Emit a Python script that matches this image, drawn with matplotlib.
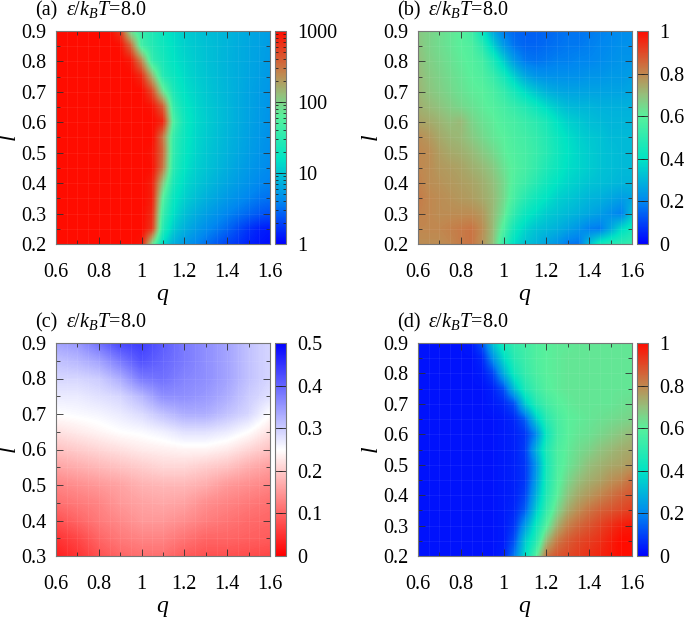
import numpy as np
import matplotlib
matplotlib.use('Agg')
import matplotlib.pyplot as plt
from matplotlib.colors import LinearSegmentedColormap, LogNorm, Normalize
from matplotlib.ticker import MultipleLocator, NullFormatter

plt.rcParams['font.family'] = ['Liberation Serif', 'DejaVu Serif']
plt.rcParams['mathtext.fontset'] = 'custom'
plt.rcParams['mathtext.rm'] = 'Liberation Serif'
plt.rcParams['mathtext.it'] = 'Liberation Serif:italic'
plt.rcParams['font.size'] = 14.5

W, H = 685, 618

q_fine = [0.6, 0.65, 0.7, 0.75, 0.8, 0.85, 0.9, 0.95, 1.0, 1.05, 1.1,
          1.15, 1.2, 1.25, 1.3, 1.35, 1.4, 1.45, 1.5, 1.55, 1.6]
q_coarse = [0.6, 0.7, 0.8, 0.9, 1.0, 1.1, 1.2, 1.3, 1.4, 1.5, 1.6]
l_full = [0.9, 0.85, 0.8, 0.75, 0.7, 0.65, 0.6, 0.55, 0.5, 0.45, 0.4, 0.35, 0.3, 0.25, 0.2]
l_short = [0.9, 0.85, 0.8, 0.75, 0.7, 0.65, 0.6, 0.55, 0.5, 0.45, 0.4, 0.35, 0.3]

# rows run from the top of each panel downwards
panel_a = [
    [1000, 1000, 1000, 1000, 1000, 1000, 600, 70, 38, 26, 19, 14, 11.5, 10, 9, 8.5, 8, 7.2, 6.6, 6, 5.6],
    [1000, 1000, 1000, 1000, 1000, 1000, 950, 350, 45, 28, 20, 15, 12, 10.5, 9.5, 8.6, 7.8, 7, 6.4, 5.9, 5.5],
    [1000, 1000, 1000, 1000, 1000, 1000, 1000, 850, 250, 36, 23, 16, 13, 11, 9.6, 8.6, 7.7, 7, 6.4, 5.8, 5.4],
    [1000, 1000, 1000, 1000, 1000, 1000, 1000, 1000, 700, 150, 28, 19, 14, 11.5, 10, 8.8, 7.8, 7, 6.3, 5.7, 5.2],
    [1000, 1000, 1000, 1000, 1000, 1000, 1000, 1000, 1000, 500, 80, 24, 15.5, 12.5, 10.5, 9, 8, 7, 6.1, 5.5, 5],
    [1000, 1000, 1000, 1000, 1000, 1000, 1000, 1000, 1000, 900, 400, 35, 18, 13.5, 11, 9.5, 8.2, 7, 6.1, 5.4, 4.9],
    [1000, 1000, 1000, 1000, 1000, 1000, 1000, 1000, 1000, 1000, 750, 52, 20, 14, 11.5, 9.6, 8.2, 7, 6, 5.3, 4.8],
    [1000, 1000, 1000, 1000, 1000, 1000, 1000, 1000, 1000, 1000, 300, 36, 19, 13.5, 11, 9.3, 7.9, 6.8, 5.8, 5.1, 4.6],
    [1000, 1000, 1000, 1000, 1000, 1000, 1000, 1000, 1000, 900, 350, 34, 18, 13, 10.5, 8.9, 7.6, 6.5, 5.6, 4.9, 4.4],
    [1000, 1000, 1000, 1000, 1000, 1000, 1000, 1000, 1000, 950, 300, 30, 16.5, 12, 10, 8.4, 7.1, 6, 5.2, 4.6, 4.2],
    [1000, 1000, 1000, 1000, 1000, 1000, 1000, 1000, 1000, 800, 120, 23, 14, 10.8, 8.9, 7.4, 6.3, 5.4, 4.7, 4.1, 3.8],
    [1000, 1000, 1000, 1000, 1000, 1000, 1000, 1000, 1000, 800, 60, 18, 12, 9.2, 7.4, 6.2, 5.2, 4.5, 3.9, 3.4, 3.2],
    [1000, 1000, 1000, 1000, 1000, 1000, 1000, 1000, 1000, 700, 40, 15, 9.5, 7.2, 5.8, 4.8, 4, 3.4, 2.9, 2.5, 2.3],
    [1000, 1000, 1000, 1000, 1000, 1000, 1000, 1000, 1000, 600, 28, 11, 7.4, 5.6, 4.4, 3.6, 2.9, 2.2, 1.7, 1.4, 1.3],
    [1000, 1000, 1000, 1000, 1000, 1000, 1000, 1000, 900, 90, 14, 7.2, 5.2, 4.1, 3.2, 2.5, 2, 1.7, 1.4, 1.25, 1.15],
]

panel_b = [
    [.68, .66, .64, .62, .60, .55, .42, .27, .18, .15, .14, .14, .15, .16, .17, .17, .18, .19, .20, .21, .22],
    [.69, .66, .64, .62, .60, .58, .50, .36, .24, .17, .15, .15, .16, .17, .18, .18, .19, .20, .21, .22, .22],
    [.70, .67, .65, .63, .61, .59, .56, .47, .35, .24, .18, .17, .18, .19, .19, .20, .20, .21, .22, .23, .23],
    [.71, .68, .66, .64, .62, .60, .58, .53, .45, .35, .27, .23, .22, .22, .22, .22, .23, .23, .24, .24, .25],
    [.72, .69, .67, .65, .63, .61, .60, .57, .52, .45, .38, .33, .29, .27, .26, .26, .26, .26, .26, .26, .27],
    [.73, .71, .69, .67, .65, .63, .61, .59, .56, .52, .48, .43, .38, .34, .31, .30, .30, .29, .29, .29, .29],
    [.75, .74, .72, .70, .71, .66, .63, .61, .58, .56, .53, .50, .46, .40, .36, .34, .32, .31, .30, .30, .30],
    [.79, .77, .74, .72, .71, .68, .65, .62, .60, .57, .55, .52, .48, .43, .39, .36, .34, .33, .31, .31, .31],
    [.80, .79, .76, .74, .73, .71, .68, .65, .61, .58, .56, .53, .49, .44, .40, .37, .35, .33, .32, .31, .31],
    [.80, .79, .77, .76, .75, .73, .71, .68, .63, .59, .56, .52, .47, .43, .39, .37, .35, .33, .32, .31, .31],
    [.81, .79, .78, .77, .76, .75, .73, .70, .65, .58, .54, .49, .44, .40, .37, .35, .33, .32, .31, .30, .30],
    [.82, .80, .79, .78, .77, .76, .74, .71, .65, .56, .49, .44, .40, .36, .34, .32, .30, .29, .27, .25, .26],
    [.81, .80, .79, .79, .79, .79, .77, .71, .63, .51, .43, .39, .35, .33, .31, .29, .27, .25, .22, .19, .32],
    [.80, .80, .80, .81, .82, .83, .79, .71, .58, .44, .37, .33, .31, .29, .26, .23, .19, .18, .27, .38, .44],
    [.79, .79, .79, .80, .82, .83, .78, .70, .52, .39, .33, .30, .26, .23, .18, .17, .32, .44, .48, .50, .52],
]

panel_c = [
    [.34, .35, .39, .43, .44, .41, .38, .36, .34, .31, .29],
    [.31, .32, .34, .38, .42, .40, .38, .36, .34, .31, .29],
    [.29, .29, .30, .33, .38, .39, .37, .36, .34, .31, .29],
    [.27, .27, .28, .29, .32, .36, .36, .35, .33, .30, .28],
    [.25, .255, .26, .27, .285, .31, .33, .33, .31, .29, .25],
    [.22, .23, .24, .25, .255, .265, .28, .28, .27, .25, .22],
    [.19, .20, .21, .22, .23, .235, .24, .24, .23, .21, .19],
    [.16, .17, .18, .19, .20, .21, .21, .20, .19, .17, .155],
    [.13, .14, .15, .16, .175, .18, .18, .17, .15, .14, .13],
    [.11, .12, .13, .15, .16, .165, .16, .14, .13, .12, .11],
    [.08, .10, .12, .135, .15, .15, .14, .125, .115, .105, .10],
    [.05, .07, .10, .12, .13, .13, .115, .10, .10, .095, .09],
    [.03, .05, .08, .10, .11, .11, .09, .08, .08, .075, .07],
]

panel_d = [
    [.03, .03, .03, .03, .03, .04, .12, .33, .46, .52, .55, .58, .60, .61, .61, .62, .62, .62, .62, .62, .62],
    [.03, .03, .03, .03, .03, .03, .06, .22, .38, .49, .54, .58, .60, .61, .62, .62, .62, .62, .62, .62, .62],
    [.03, .03, .03, .03, .03, .03, .04, .10, .28, .44, .52, .57, .60, .61, .62, .62, .62, .62, .62, .62, .62],
    [.03, .03, .03, .03, .03, .03, .03, .05, .12, .32, .47, .54, .59, .61, .62, .62, .62, .62, .62, .62, .62],
    [.03, .03, .03, .03, .03, .03, .03, .04, .06, .12, .34, .48, .55, .59, .61, .62, .62, .62, .62, .63, .64],
    [.03, .03, .03, .03, .03, .03, .03, .03, .04, .06, .14, .34, .49, .56, .60, .61, .62, .63, .64, .65, .66],
    [.03, .03, .03, .03, .03, .03, .03, .03, .04, .05, .08, .20, .43, .55, .60, .62, .63, .65, .67, .69, .71],
    [.03, .03, .03, .03, .03, .03, .03, .03, .04, .05, .09, .28, .47, .57, .61, .64, .66, .69, .71, .73, .74],
    [.03, .03, .03, .03, .03, .03, .03, .03, .04, .05, .08, .22, .45, .57, .62, .66, .70, .72, .74, .75, .77],
    [.03, .03, .03, .03, .03, .03, .03, .03, .04, .05, .08, .24, .46, .58, .65, .70, .73, .75, .78, .80, .84],
    [.03, .03, .03, .03, .03, .03, .03, .03, .04, .05, .10, .28, .48, .60, .69, .74, .77, .80, .83, .86, .88],
    [.03, .03, .03, .03, .03, .03, .03, .03, .04, .06, .14, .34, .52, .65, .74, .79, .83, .86, .88, .90, .92],
    [.03, .03, .03, .03, .03, .03, .03, .03, .04, .08, .24, .42, .59, .73, .81, .85, .88, .91, .94, .97, .98],
    [.03, .03, .03, .03, .03, .03, .03, .03, .04, .12, .34, .48, .71, .82, .87, .90, .92, .94, .97, 1.0, 1.0],
    [.03, .03, .03, .03, .03, .03, .03, .03, .05, .18, .38, .58, .83, .88, .90, .92, .94, .96, .98, 1.0, 1.0],
]

rainbow_stops = [(0.0, '#0000ff'), (0.2, '#0088f0'), (0.4, '#00e4c4'), (0.6, '#58f09c'),
                 (0.7, '#94c07c'), (0.8, '#c08850'), (1.0, '#ff0c00')]
rainbow = LinearSegmentedColormap.from_list('rainbow_tan', rainbow_stops, N=256)
redblue = LinearSegmentedColormap.from_list('redblue', ['#ff0000', '#ffffff', '#0000ff'], N=256)


def box(x0, y0, x1, y1):
    return [x0 / W, 1 - y1 / H, (x1 - x0) / W, (y1 - y0) / H]


def draw_panel(px, py, tag, data, qs, ls, cmap, norm, cticks, clabels, log=False):
    x0, y0 = px, py
    ax = fig.add_axes(box(x0, y0, x0 + 214, y0 + 213))
    qs = np.array(qs)
    ls = np.array(ls)
    dq = (qs[1] - qs[0]) / 2
    dl = (ls[0] - ls[1]) / 2
    arr = np.array(data, dtype=float)
    if log:
        arr = np.log10(arr)
        img_norm = Normalize(0, 3)
    else:
        img_norm = norm
    ax.imshow(arr, extent=[qs[0] - dq, qs[-1] + dq, ls[-1] - dl, ls[0] + dl], aspect='auto',
              cmap=cmap, norm=img_norm, interpolation='bilinear', interpolation_stage='data')
    # faint seams between the cells of the map
    ax.vlines(q_fine, ls[-1], ls[0], color='white', alpha=0.07, lw=0.6)
    ax.hlines(l_full, qs[0], qs[-1], color='white', alpha=0.07, lw=0.6)
    ax.set_xlim(qs[0], qs[-1])
    ax.set_ylim(ls[-1], ls[0])
    ax.xaxis.set_major_locator(MultipleLocator(0.2))
    ax.xaxis.set_minor_locator(MultipleLocator(0.1))
    ax.yaxis.set_major_locator(MultipleLocator(0.1))
    ax.yaxis.set_minor_locator(MultipleLocator(0.05))
    ax.xaxis.set_major_formatter(lambda v, p: f'{v:g}')
    ax.tick_params(which='both', direction='in', top=True, right=True, color='#222222', width=0.6)
    ax.tick_params(which='major', length=5)
    ax.tick_params(which='minor', length=3)
    ax.tick_params(axis='x', which='major', pad=14)
    ax.tick_params(axis='y', which='major', pad=7)
    for s in ax.spines.values():
        s.set_color('#777777')
        s.set_linewidth(0.8)
    ax.set_xlabel('$q$', fontsize=17)
    ax.set_ylabel('$l$', fontsize=17)
    ax.xaxis.set_label_coords(0.5, -0.195)
    ax.yaxis.set_label_coords(-0.165, 0.5)

    cax = fig.add_axes(box(x0 + 219, y0, x0 + 230, y0 + 213))
    sm = plt.cm.ScalarMappable(norm=norm, cmap=cmap)
    cb = fig.colorbar(sm, cax=cax)
    cb.set_ticks(cticks, labels=clabels)
    cax.tick_params(which='both', direction='in', left=True, right=True, color='#222222', width=0.6)
    cax.tick_params(which='major', length=5, pad=8)
    cax.tick_params(which='minor', length=2.5)
    if log:
        cax.yaxis.set_minor_formatter(NullFormatter())
    else:
        cax.minorticks_off()
    cb.outline.set_edgecolor('#777777')
    cb.outline.set_linewidth(0.8)

    fig.text((x0 - 21) / W, 1 - (y0 - 16) / H, f'({tag})', ha='left', va='baseline')
    fig.text((x0 + 10) / W, 1 - (y0 - 16) / H, r'$\varepsilon/k_BT$=8.0', ha='left', va='baseline')


fig = plt.figure(figsize=(W / 100, H / 100), dpi=100)

draw_panel(56, 31, 'a', panel_a, q_fine, l_full, rainbow, LogNorm(1, 1000),
           [1, 10, 100, 1000], ['1', '10', '100', '1000'], log=True)
draw_panel(418, 31, 'b', panel_b, q_fine, l_full, rainbow, Normalize(0, 1),
           [0, .2, .4, .6, .8, 1], ['0', '0.2', '0.4', '0.6', '0.8', '1'])
draw_panel(56, 343, 'c', panel_c, q_coarse, l_short, redblue, Normalize(0, .5),
           [0, .1, .2, .3, .4, .5], ['0', '0.1', '0.2', '0.3', '0.4', '0.5'])
draw_panel(418, 343, 'd', panel_d, q_fine, l_full, rainbow, Normalize(0, 1),
           [0, .2, .4, .6, .8, 1], ['0', '0.2', '0.4', '0.6', '0.8', '1'])

fig.savefig('out.png', dpi=100)
